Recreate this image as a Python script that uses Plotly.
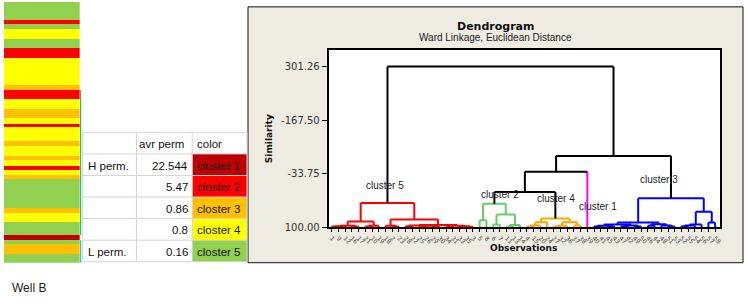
import plotly.graph_objects as go

W, H = 748, 304

# ---------------- data ----------------
# Well B log strip: cluster id of each band (top -> bottom) and band thickness
strip_clusters = [5, 2, 5, 4, 5, 2, 4, 3, 2, 4, 3, 4, 2, 4, 3, 4, 3, 4, 2, 4, 3, 5, 3, 4, 5, 1, 5, 3, 5]
strip_thickness = [18, 4, 6, 10, 9, 10, 28, 5, 9, 10, 9, 6, 4, 14, 5, 10, 4, 6, 4, 5, 5, 29, 5, 9, 14, 5, 4, 10, 9]

# table
table_header = ["", "avr perm", "color"]
table_labels = ["H perm.", "", "", "", "L perm."]
avr_perm = ["22.544", "5.47", "0.86", "0.8", "0.16"]
color_names = ["cluster 1", "closter 2", "closter 3", "closter 4", "closter 5"]
table_clusters = [1, 2, 3, 4, 5]
cluster_colors = {1: "#C00000", 2: "#FF0000", 3: "#FFC000", 4: "#FFFF00", 5: "#92D050"}

# dendrogram (similarity heights; leaves = observation positions 0..57)
dendro_colors = {5: "#FF0000", 2: "#66CC66", 4: "#FFA500", 1: "#FF00FF", 3: "#0000FF"}
c5_tree = (39, (85, (96, (97, (98, 0, 1), 2), (97.5, 3, 4)), (96, (98, 5, 6), 7)),
               (80.5, (96, 8, (98, 9, 10)),
                      (94, (95, (97, 11, 12), (96, (98, 13, 14), (98, 15, 16))),
                           (96, (98, 17, 18), (97, 19, (98.5, 20, 21))))))
c2_tree = (41, (82, 22, 23), (68, (93, 24, 25), (94, (97.5, 26, 27), 28)))
c4_tree = (78, (87, (95, (97.5, 29, 30), 31), 32),
               (87, (96, (98, 33, 34), 35), (95, 36, 37)))
c1_tree = 38
c3_tree = (27, (88, (93, (96, (98, 39, 40), (97, 41, 42)), (95, (98, 43, 44), (98, 45, 46))),
                    (92, (96, 47, 48), (95, 49, (98, 50, 51)))),
               (61, (93, (95, (97, 52, 53), 54), 55), (88, 56, 57)))
upper_heights = {"root": -301.26, "n1": -78.0, "n2": -39.0, "n3": 12.0}

obs_labels = [1, 9, 12, 16, 17, 21, 10, 19, 18, 2, 23, 28, 22, 25, 26, 29, 30, 34, 31, 33, 35, 3,
              5, 8, 6, 7, 11, 13, 14,
              4, 15, 20, 24, 27, 32, 36, 37, 38,
              39,
              40, 41, 45, 43, 47, 42, 49, 50, 46, 44, 48, 51, 53, 52, 55, 54, 56, 57, 58]

ytick_vals = [100.00, -33.75, -167.50, -301.26]
ytick_text = ["100.00", "-33.75", "-167.50", "301.26"]

cluster_labels = ["cluster 5", "cluster 2", "cluster 4", "cluster 1", "cluster 3"]
cluster_label_x = [7.9, 25.0, 33.3, 39.6, 48.6]
cluster_label_y = [-5, 18, 29, 47, -19]

# ---------------- helpers ----------------
def px(x):
    return x / W

def py(y):
    return 1 - y / H

tree = (upper_heights["root"], {"cluster": 5, "tree": c5_tree},
        (upper_heights["n1"],
         (upper_heights["n2"],
          (upper_heights["n3"], {"cluster": 2, "tree": c2_tree}, {"cluster": 4, "tree": c4_tree}),
          {"cluster": 1, "tree": c1_tree}),
         {"cluster": 3, "tree": c3_tree}))

segs = {}

def add(color, xs, ys):
    d = segs.setdefault(color, ([], []))
    d[0].extend(xs + [None])
    d[1].extend(ys + [None])

def build(node, color):
    if isinstance(node, dict):
        c = dendro_colors[node["cluster"]]
        x, h, _ = build(node["tree"], c)
        leg = c if isinstance(node["tree"], int) else "black"
        return x, h, leg
    if isinstance(node, int):
        return float(node), 100.0, color or "black"
    h, l, r = node
    xl, hl, cl = build(l, color)
    xr, hr, cr = build(r, color)
    own = color or "black"
    add(cl if color is None else own, [xl, xl], [hl, h])
    add(own, [xl, xr], [h, h])
    add(cr if color is None else own, [xr, xr], [hr, h])
    return (xl + xr) / 2, h, own

build(tree, None)

fig = go.Figure()

for color in [c for c in segs if c != "black"] + ["black"]:
    if color in segs:
        xs, ys = segs[color]
        fig.add_trace(go.Scatter(x=xs, y=ys, mode="lines", line=dict(color=color, width=2),
                                 hoverinfo="skip", showlegend=False, xaxis="x", yaxis="y"))

# strip bars
bases = []
acc = 0
for t in strip_thickness:
    bases.append(acc)
    acc += t
fig.add_trace(go.Bar(x=[0] * len(strip_thickness), y=strip_thickness, base=bases, width=1,
                     marker=dict(color=[cluster_colors[c] for c in strip_clusters], line=dict(width=0)),
                     showlegend=False, hoverinfo="skip", xaxis="x2", yaxis="y2"))

# ---------------- layout geometry ----------------
plot_l, plot_r, plot_t, plot_b = 330, 723, 51, 232
leaf_px0, leaf_px1 = 333, 718
n_leaves = len(obs_labels)
ppu = (leaf_px1 - leaf_px0) / (n_leaves - 1)
xr0 = 0 - (leaf_px0 - plot_l) / ppu
xr1 = (n_leaves - 1) + (plot_r - leaf_px1) / ppu
upp = 133.75 / 54.75
ytop = 100 - (plot_b - plot_t) * upp

shapes = []
shapes.append(dict(type="rect", xref="paper", yref="paper", x0=px(249), x1=px(746), y0=py(268), y1=py(7),
                   fillcolor="#EEEBE1", line=dict(color="#111111", width=1), layer="below"))
shapes.append(dict(type="rect", xref="paper", yref="paper", x0=px(plot_l), x1=px(plot_r), y0=py(plot_b), y1=py(plot_t),
                   fillcolor="white", line=dict(width=0), layer="below"))

tx = [83, 137, 193, 248]
ty = [135, 157, 179, 201, 223, 245, 267]
for i, k in enumerate(table_clusters):
    shapes.append(dict(type="rect", xref="paper", yref="paper", x0=px(tx[2]), x1=px(tx[3]),
                       y0=py(ty[i + 2]), y1=py(ty[i + 1]), fillcolor=cluster_colors[k],
                       line=dict(width=0), layer="below"))
for y in ty:
    shapes.append(dict(type="line", xref="paper", yref="paper", x0=px(tx[0]), x1=px(tx[3]), y0=py(y), y1=py(y),
                       line=dict(color="#D4D4D4", width=1)))
for x in tx:
    shapes.append(dict(type="line", xref="paper", yref="paper", x0=px(x), x1=px(x), y0=py(ty[-1]), y1=py(ty[0]),
                       line=dict(color="#D4D4D4", width=1)))
shapes.append(dict(type="line", xref="paper", yref="paper", x0=px(81), x1=px(81), y0=py(240), y1=py(92),
                   line=dict(color="#00B050", width=1)))
shapes.append(dict(type="line", xref="paper", yref="paper", x0=px(81), x1=px(81), y0=py(268), y1=py(245),
                   line=dict(color="#00B0F0", width=1)))

annotations = []
tf = dict(family="Liberation Sans", size=11.5, color="#111111")
dy = 1
annotations.append(dict(text=table_header[1], x=px(tx[2] - 6), y=py((ty[0] + ty[1]) / 2 + dy), xref="paper", yref="paper",
                        xanchor="right", yanchor="middle", showarrow=False, font=tf))
annotations.append(dict(text=table_header[2], x=px(tx[2] + 3), y=py((ty[0] + ty[1]) / 2 + dy), xref="paper", yref="paper",
                        xanchor="left", yanchor="middle", showarrow=False, font=tf))
for i in range(5):
    yc = py((ty[i + 1] + ty[i + 2]) / 2 + dy)
    if table_labels[i]:
        annotations.append(dict(text=table_labels[i], x=px(tx[0] + 3), y=yc, xref="paper", yref="paper",
                                xanchor="left", yanchor="middle", showarrow=False, font=tf))
    annotations.append(dict(text=avr_perm[i], x=px(tx[2] - 2), y=yc, xref="paper", yref="paper",
                            xanchor="right", yanchor="middle", showarrow=False, font=tf))
    annotations.append(dict(text=color_names[i], x=px(tx[2] + 3), y=yc, xref="paper", yref="paper",
                            xanchor="left", yanchor="middle", showarrow=False, font=tf))

annotations.append(dict(text="Well B", x=px(10), y=py(294), xref="paper", yref="paper", xanchor="left",
                        yanchor="middle", showarrow=False, font=dict(family="Liberation Sans", size=12, color="#222222")))

annotations.append(dict(text="<b>Dendrogram</b>", x=px(497), y=py(27), xref="paper", yref="paper",
                        xanchor="center", yanchor="middle", showarrow=False,
                        font=dict(family="DejaVu Sans", size=11, color="#111111")))
annotations.append(dict(text="Ward Linkage, Euclidean Distance", x=px(497), y=py(38), xref="paper", yref="paper",
                        xanchor="center", yanchor="middle", showarrow=False,
                        font=dict(family="Liberation Sans", size=10, color="#222222")))
annotations.append(dict(text="<b>Similarity</b>", x=px(270), y=py(141), xref="paper", yref="paper",
                        xanchor="center", yanchor="middle", showarrow=False, textangle=-90,
                        font=dict(family="DejaVu Sans", size=9, color="#111111")))
annotations.append(dict(text="<b>Observations</b>", x=px(526), y=py(253), xref="paper", yref="paper",
                        xanchor="center", yanchor="middle", showarrow=False,
                        font=dict(family="DejaVu Sans", size=9, color="#111111")))
for t, x, y in zip(cluster_labels, cluster_label_x, cluster_label_y):
    annotations.append(dict(text=t, x=x, y=y, xref="x", yref="y", xanchor="center", yanchor="middle",
                            showarrow=False, font=dict(family="Liberation Sans", size=10, color="#222222")))

fig.update_layout(
    autosize=True, margin=dict(l=0, r=0, t=0, b=0, pad=0),
    paper_bgcolor="white", plot_bgcolor="rgba(0,0,0,0)",
    barmode="overlay", bargap=0,
    xaxis=dict(domain=[px(plot_l), px(plot_r)], range=[xr0, xr1], showgrid=False, zeroline=False,
               showline=True, mirror=True, linecolor="black", linewidth=2,
               tickmode="array", tickvals=list(range(n_leaves)), ticktext=[str(v) for v in obs_labels],
               ticks="outside", ticklen=3, tickwidth=1, tickcolor="black", tickangle=45,
               tickfont=dict(family="DejaVu Sans", size=6, color="#444444")),
    yaxis=dict(domain=[py(plot_b), py(plot_t)], range=[100, ytop], showgrid=False, zeroline=False,
               showline=True, mirror=True, linecolor="black", linewidth=2,
               tickmode="array", tickvals=ytick_vals, ticktext=ytick_text,
               ticks="outside", ticklen=5, tickwidth=1, tickcolor="black",
               tickfont=dict(family="DejaVu Sans", size=10, color="#333333")),
    xaxis2=dict(domain=[px(4), px(80)], range=[-0.5, 0.5], visible=False, anchor="y2"),
    yaxis2=dict(domain=[py(268), py(2)], range=[sum(strip_thickness), 0], visible=False, anchor="x2"),
    shapes=shapes, annotations=annotations,
)

page_js = ("var d=document.documentElement,b=document.body;"
           "d.style.margin='0';d.style.padding='0';d.style.overflow='hidden';"
           "b.style.margin='0';b.style.padding='0';b.style.overflow='hidden';")
fig.write_html("out.html", config={"displayModeBar": False, "responsive": True},
               default_width="748px", default_height="304px", post_script=page_js)
